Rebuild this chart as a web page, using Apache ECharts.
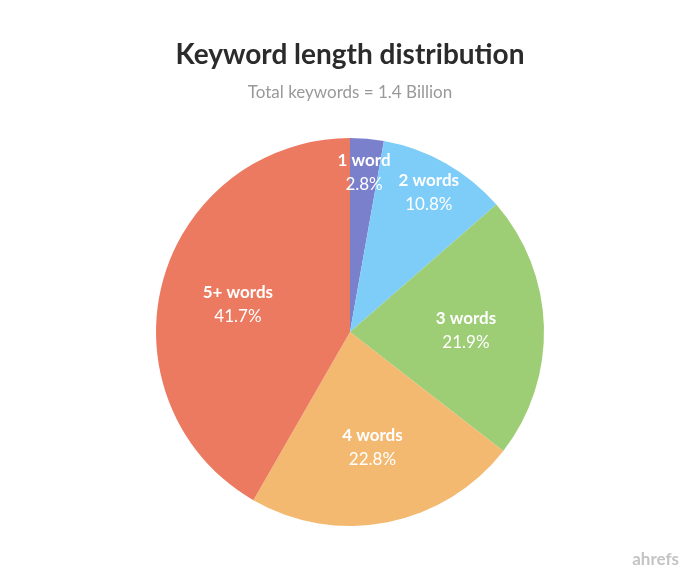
<!DOCTYPE html>
<html><head><meta charset="utf-8">
<script src="https://cdn.jsdelivr.net/npm/echarts@6/dist/echarts.min.js"></script>
<style>html,body{margin:0;background:#fff}#c{width:700px;height:583px}</style>
</head><body><div id="c"></div>
<script>
const categories = ['1 word','2 words','3 words','4 words','5+ words'];
const values = [2.8, 10.8, 21.9, 22.8, 41.7];
const colors = ['#7b80cc','#7ecdf9','#9dcd74','#f3b970','#ec7a61'];
const font = 'Lato, "Open Sans", sans-serif';
const data = categories.map((n,i)=>({name:n,value:values[i],itemStyle:{color:colors[i]}}));
const lbl = {show:true,position:'inside',color:'#fff',fontFamily:font,
  formatter:p=>'{b|'+p.name+'}\n{n|'+p.value.toFixed(1)+'%}',
  rich:{b:{fontSize:17,fontWeight:'bold',color:'#fff',fontFamily:font,lineHeight:24},
        n:{fontSize:17,color:'#fff',fontFamily:font,lineHeight:24}}};
function labelData(show){return data.map((d,i)=>({name:d.name,value:d.value,itemStyle:{color:'transparent'},label:{show:show.includes(i)}}));}
const chart = echarts.init(document.getElementById('c'));
chart.setOption({
  animation:false,
  title:[{text:'Keyword length distribution',left:'center',top:36,
    textStyle:{fontFamily:font,fontSize:28,fontWeight:'bold',color:'#2b2b2b'}},
    {text:'Total keywords = 1.4 Billion',left:'center',top:79,
    textStyle:{fontFamily:font,fontSize:17,fontWeight:'normal',color:'#999'}},
    {text:'ahrefs',right:16,bottom:10,textStyle:{fontFamily:font,fontSize:17,fontWeight:'bold',color:'#c4c4c4'}}],
  series:[
    {type:'pie',radius:[0,194],center:[350,332],startAngle:90,clockwise:true,data:data,label:{show:false},labelLine:{show:false},silent:true},
    {type:'pie',radius:[120,194],center:[350,332],startAngle:90,data:labelData([0,1]),label:lbl,labelLine:{show:false},silent:true},
    {type:'pie',radius:[32,194],center:[350,334],startAngle:90,data:labelData([2,3,4]),label:lbl,labelLine:{show:false},silent:true}
  ]
});
</script></body></html>
